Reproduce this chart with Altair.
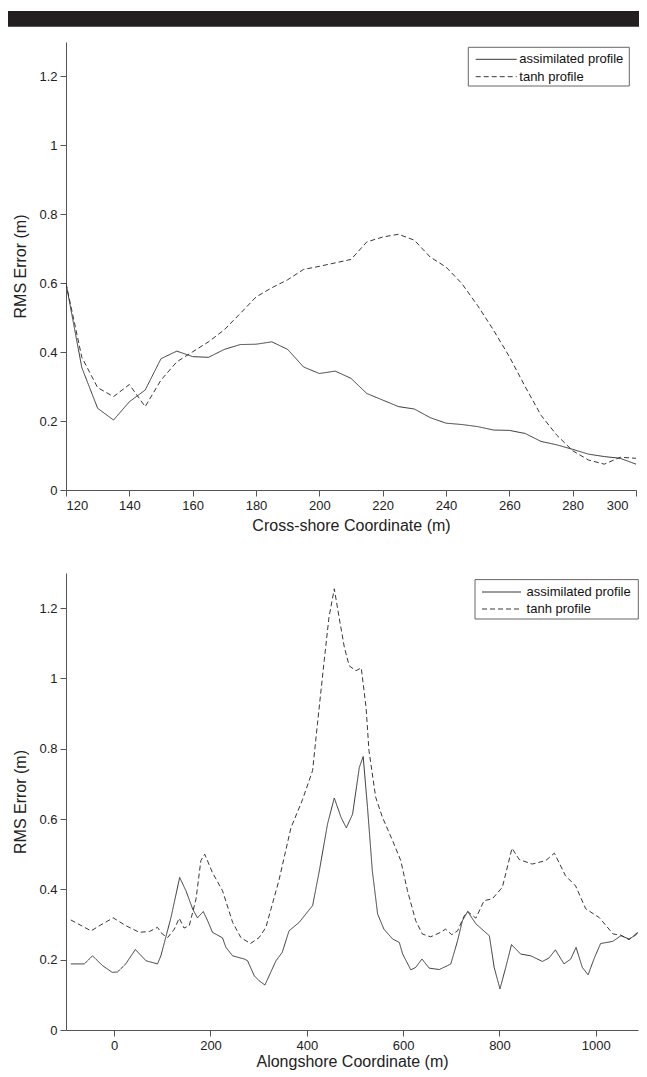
import altair as alt
import pandas as pd

SERIES = ["assimilated profile", "tanh profile"]
RMS_TITLE = "RMS Error (m)"
CROSS_TITLE = "Cross-shore Coordinate (m)"
ALONG_TITLE = "Alongshore Coordinate (m)"

# ---- top panel: cross-shore ----
cross_x = list(range(120, 301, 5))
cross_assim = [0.60, 0.355, 0.237, 0.203, 0.256, 0.29, 0.381, 0.403, 0.387, 0.385,
               0.408, 0.422, 0.423, 0.43, 0.408, 0.357, 0.338, 0.345, 0.324, 0.28,
               0.261, 0.242, 0.235, 0.21, 0.194, 0.19, 0.184, 0.174, 0.173, 0.164,
               0.141, 0.131, 0.118, 0.104, 0.097, 0.092, 0.075]
cross_tanh = [0.60, 0.385, 0.297, 0.271, 0.306, 0.242, 0.319, 0.372, 0.401, 0.43,
              0.465, 0.512, 0.56, 0.587, 0.61, 0.64, 0.649, 0.659, 0.669, 0.72,
              0.734, 0.742, 0.725, 0.676, 0.647, 0.599, 0.535, 0.464, 0.387, 0.30,
              0.217, 0.159, 0.114, 0.087, 0.075, 0.095, 0.092]

# ---- bottom panel: alongshore ----
along_assim_x = [-90, -62, -45, -24, -4, 7, 24, 44, 66, 90, 97, 118, 136, 149, 163, 173,
                 185, 194, 204, 225, 232, 246, 270, 277, 291, 301, 313, 336, 349, 363,
                 384, 412, 426, 443, 457, 471, 482, 495, 509, 517, 526, 536, 547, 560,
                 578, 592, 599, 616, 626, 639, 654, 675, 692, 699, 713, 723, 734, 751,
                 779, 789, 801, 813, 825, 844, 865, 889, 903, 916, 934, 948, 959, 972,
                 984, 997, 1010, 1035, 1052, 1069, 1083, 1095]
along_assim = [0.188, 0.188, 0.211, 0.183, 0.164, 0.165, 0.188, 0.229, 0.197, 0.188,
               0.211, 0.32, 0.434, 0.396, 0.344, 0.319, 0.337, 0.311, 0.278, 0.262,
               0.235, 0.211, 0.202, 0.197, 0.154, 0.14, 0.128, 0.197, 0.221, 0.282,
               0.306, 0.354, 0.453, 0.586, 0.66, 0.605, 0.575, 0.614, 0.747, 0.778,
               0.633, 0.453, 0.33, 0.287, 0.259, 0.249, 0.216, 0.171, 0.178, 0.202,
               0.176, 0.172, 0.183, 0.188, 0.254, 0.311, 0.337, 0.302, 0.268, 0.178,
               0.117, 0.178, 0.243, 0.216, 0.211, 0.195, 0.205, 0.228, 0.188, 0.202,
               0.235, 0.178, 0.157, 0.205, 0.246, 0.252, 0.268, 0.259, 0.27, 0.29]
along_tanh_x = [-90, -48, -24, -2, 24, 52, 73, 90, 100, 111, 125, 135, 145, 156, 170, 180,
                188, 204, 225, 246, 263, 283, 301, 315, 342, 367, 391, 412, 422, 436,
                446, 457, 467, 478, 488, 502, 513, 523, 529, 543, 557, 578, 595, 609,
                626, 640, 657, 678, 688, 701, 713, 727, 734, 751, 768, 785, 806, 826,
                841, 868, 896, 914, 937, 958, 979, 1007, 1036, 1052, 1069, 1095]
along_tanh = [0.313, 0.282, 0.302, 0.319, 0.297, 0.278, 0.28, 0.292, 0.273, 0.263,
              0.287, 0.318, 0.29, 0.297, 0.373, 0.482, 0.5, 0.448, 0.396, 0.306,
              0.263, 0.246, 0.263, 0.292, 0.425, 0.575, 0.655, 0.738, 0.87, 1.05,
              1.174, 1.255, 1.174, 1.088, 1.036, 1.022, 1.03, 0.918, 0.795, 0.662,
              0.605, 0.539, 0.482, 0.396, 0.311, 0.273, 0.265, 0.278, 0.287, 0.271,
              0.282, 0.325, 0.337, 0.318, 0.368, 0.373, 0.406, 0.517, 0.485, 0.472,
              0.482, 0.503, 0.439, 0.41, 0.345, 0.32, 0.273, 0.27, 0.257, 0.287]

cross_ticks = [120, 140, 160, 180, 200, 220, 240, 260, 280, 300]
along_ticks = [0, 200, 400, 600, 800, 1000]
rms_ticks = [0, 0.2, 0.4, 0.6, 0.8, 1.0, 1.2]

LINE = "#383838"
FONT = "Liberation Sans"
DASH = [5, 3]


def long_frame(xa, ya, xt, yt):
    rows = [{"x": x, "rms": y, "series": SERIES[0]} for x, y in zip(xa, ya)]
    rows += [{"x": x, "rms": y, "series": SERIES[1]} for x, y in zip(xt, yt)]
    return pd.DataFrame(rows)


def one():
    return pd.DataFrame({"k": [0]})


def legend_layers(box, line_x, row_y, text_x):
    bx0, bx1, by0, by1 = box
    layers = [alt.Chart(one()).mark_rect(fill="white", stroke="#666666", strokeWidth=1).encode(
        x=alt.value(bx0), x2=alt.value(bx1), y=alt.value(by0), y2=alt.value(by1))]
    for i, name in enumerate(SERIES):
        props = {"color": LINE, "strokeWidth": 1}
        if i == 1:
            props["strokeDash"] = DASH
        layers.append(alt.Chart(one()).mark_rule(**props).encode(
            x=alt.value(line_x[0]), x2=alt.value(line_x[1]), y=alt.value(row_y[i])))
        layers.append(alt.Chart(pd.DataFrame({"label": [name]})).mark_text(
            align="left", baseline="middle", fontSize=13, font=FONT, color="#111111").encode(
            x=alt.value(text_x), y=alt.value(row_y[i]), text="label:N"))
    return layers


def panel(df, x_domain, x_ticks, x_title, width, height, legend, title_pad,
          last_label_shift=0, extra=None):
    x_axis = alt.Axis(
        values=x_ticks, format="d", title=x_title, titlePadding=title_pad,
        labelOffset={"condition": {"test": f"datum.value == {x_ticks[-1]}",
                                   "value": last_label_shift}, "value": 0},
    )
    lines = alt.Chart(df).mark_line(color=LINE, strokeWidth=1, clip=True).encode(
        x=alt.X("x:Q", scale=alt.Scale(domain=x_domain, nice=False, zero=False), axis=x_axis),
        y=alt.Y("rms:Q", scale=alt.Scale(domain=[0, 1.3], nice=False),
                axis=alt.Axis(values=rms_ticks, format="~g", title=RMS_TITLE)),
        strokeDash=alt.StrokeDash("series:N",
                                  scale=alt.Scale(domain=SERIES, range=[[1, 0], DASH]),
                                  legend=None),
        order="x:Q",
    )
    layers = ([extra] if extra is not None else []) + [lines] + legend
    return alt.layer(*layers).properties(width=width, height=height)


bar = alt.Chart(one()).mark_rect(color="#231f20").encode(
    x=alt.value(-58), x2=alt.value(573), y=alt.value(-31), y2=alt.value(-15.3))

top = panel(long_frame(cross_x, cross_assim, cross_x, cross_tanh),
            [120, 300], cross_ticks, CROSS_TITLE, 570, 448,
            legend_layers((402.3, 563.3, 5.3, 44), (409.7, 450.7), (17.3, 34.7), 453.3),
            title_pad=5, last_label_shift=-8, extra=bar)

bottom = panel(long_frame(along_assim_x, along_assim, along_tanh_x, along_tanh),
               [-100, 1087.6], along_ticks, ALONG_TITLE, 572, 457,
               legend_layers((409, 572.3, 6.6, 46), (416, 455), (19, 36), 460.6),
               title_pad=1)

chart = alt.vconcat(top, bottom, spacing=40).properties(
    padding={"left": 0, "top": 3, "right": 0, "bottom": 1}
).configure_view(stroke=None).configure_axis(
    grid=False, domainColor="#555555", tickColor="#555555", domainWidth=1, tickWidth=1,
    tickSize=6, labelFont=FONT, titleFont=FONT, labelFontSize=13, titleFontSize=16,
    titleFontWeight="normal", labelColor="#222222", titleColor="#222222", labelPadding=3,
).configure_axisY(titlePadding=10)

chart.save("out.html", embed_options={"renderer": "svg", "actions": False})
